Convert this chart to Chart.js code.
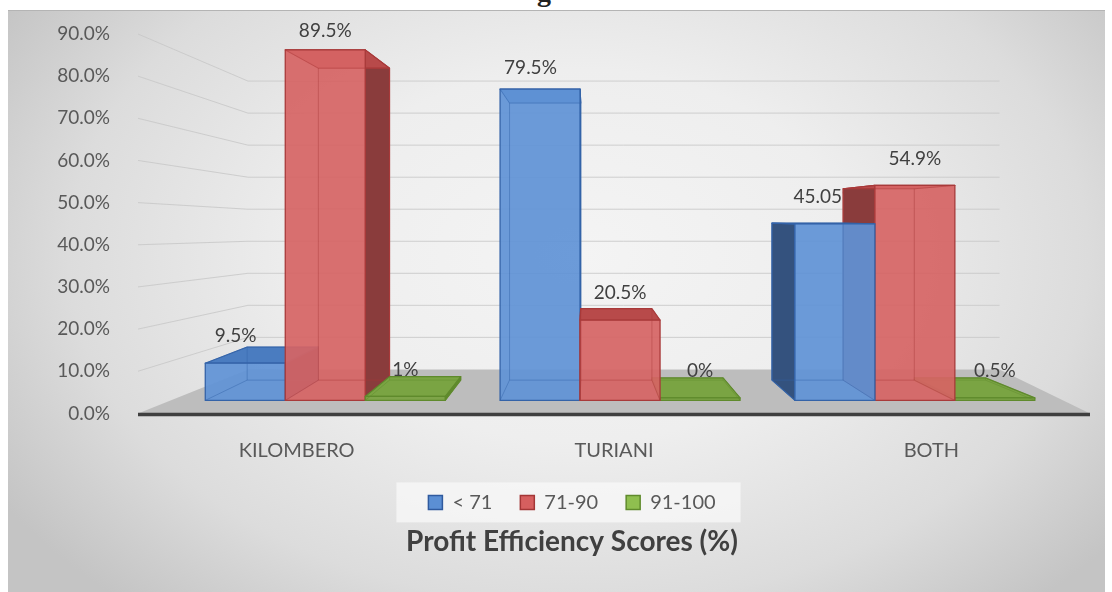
<!DOCTYPE html>
<html><head><meta charset="utf-8">
<script src="https://cdn.jsdelivr.net/npm/chart.js@4.4.1/dist/chart.umd.min.js"></script>
<style>
html,body{margin:0;padding:0;background:#fff;width:1112px;height:592px;overflow:hidden;}
#frame{position:absolute;left:8px;top:10px;width:1097px;height:582px;
 background:radial-gradient(ellipse 62% 80% at 52% 42%, #f4f4f4 0%, #eeeeee 40%, #dcdcdc 75%, #c4c4c4 100%);
 border-top:1px solid #b4b4b4;}
#cut{position:absolute;left:537px;top:-24px;font:bold 28px 'Liberation Serif';color:#222;}
#wrap{position:absolute;left:0;top:0;width:1112px;height:592px;}
</style></head><body>
<div id="frame"></div>
<div id="cut">g</div>
<div id="wrap"><canvas id="c" width="1112" height="592"></canvas></div>
<script>
const categories = ['KILOMBERO', 'TURIANI', 'BOTH'];
const seriesNames = ['< 71', '71-90', '91-100'];
const below71 = [9.5, 79.5, 45.05];
const from71to90 = [89.5, 20.5, 54.9];
const from91to100 = [1, 0, 0.5];
const yTicks = [0, 10, 20, 30, 40, 50, 60, 70, 80, 90];
const chartTitle = 'Profit Efficiency Scores (%)';

const FONT = 'Lato';
const faceStyles = [
  {front:'rgba(96,146,214,0.92)', side:'#34527e', top:'#4a7cc0', edge:'#3463a8'},
  {front:'rgba(214,100,100,0.92)', side:'#8a3c3c', top:'#b84a4a', edge:'#a83a3a'},
  {front:'rgba(122,162,66,0.95)', side:'#5f8a2c', top:'#7aa443', edge:'#5f8a2c'}
];

function geom(ca){
  const w = ca.right - ca.left, h = ca.bottom - ca.top;
  return {
    vx1: ca.left + 0.5897*w, vy1: ca.top + 0.517*h, s1: 0.929,
    vx2: ca.left + 0.4706*w, vy2: ca.top + 0.480*h, s2: 0.89,
    sw: 0.76,
    wallL: ca.left + 0.1155*w, wallR: ca.left + 0.905*w
  };
}

const pseudo3d = {
  id:'pseudo3d',
  beforeDatasetsDraw(chart){
    const ctx = chart.ctx, ca = chart.chartArea, g = geom(ca);
    const ys = chart.scales.y;
    const wallY = y => g.vy1 + g.sw*(y - g.vy1);
    const toF = (x,y) => [g.vx1 + g.s1*(x-g.vx1), g.vy1 + g.s1*(y-g.vy1)];
    const toB = (x,y) => [g.vx2 + g.s2*(x-g.vx2), g.vy2 + g.s2*(y-g.vy2)];
    ctx.save();
    // gridlines
    ctx.strokeStyle = 'rgba(200,200,200,0.85)';
    ctx.lineWidth = 1;
    yTicks.forEach(v => {
      if (v === 0) return;
      const yl = ys.getPixelForValue(v), yw = wallY(yl);
      ctx.beginPath();
      ctx.moveTo(ca.left, yl);
      ctx.lineTo(g.wallL, yw);
      ctx.lineTo(g.wallR, yw);
      ctx.stroke();
    });
    // floor
    const y0 = ys.getPixelForValue(0), yw0 = wallY(y0);
    ctx.fillStyle = '#bdbdbd';
    ctx.beginPath();
    ctx.moveTo(ca.left, y0); ctx.lineTo(g.wallL, yw0); ctx.lineTo(g.wallR, yw0); ctx.lineTo(ca.right, y0);
    ctx.closePath(); ctx.fill();
    ctx.strokeStyle = '#3f3f3f'; ctx.lineWidth = 3.5;
    ctx.beginPath(); ctx.moveTo(ca.left, y0+1); ctx.lineTo(ca.right, y0+1); ctx.stroke();

    const boxes = [];
    chart.data.datasets.forEach((ds, di) => {
      const meta = chart.getDatasetMeta(di);
      meta.data.forEach((el, j) => {
        const l = el.x - el.width/2, r = el.x + el.width/2;
        const [fl, ft0] = toF(l, el.y);
        const [fr, fb] = toF(r, el.base);
        const ft = Math.min(ft0, fb - 2.5);
        const [bl, bt] = toB(fl, ft);
        const [br, bb] = toB(fr, fb);
        boxes.push({di, j, v: ds.data[j], F:{l:fl, r:fr, t:ft, b:fb}, B:{l:bl, r:br, t:bt, b:bb}});
      });
    });
    // labels first (bars may overlap them like the original)
    ctx.fillStyle = '#404040';
    ctx.font = '19px ' + FONT;
    ctx.textAlign = 'center'; ctx.textBaseline = 'middle';
    boxes.forEach(b => {
      const h = b.F.b - b.F.t;
      const off = 27 - Math.max(0, h - 200)*0.055;
      const w = b.F.r - b.F.l;
      const shift = b.di === 0 ? -0.12*w : 0;
      ctx.fillText(b.v + '%', (b.F.l + b.F.r)/2 + shift, b.F.t - off);
    });
    boxes.sort((a, b) => Math.abs((b.F.l+b.F.r)/2 - g.vx2) - Math.abs((a.F.l+a.F.r)/2 - g.vx2));
    const poly = pts => { ctx.beginPath(); ctx.moveTo(pts[0][0], pts[0][1]); for (let i=1;i<pts.length;i++) ctx.lineTo(pts[i][0], pts[i][1]); ctx.closePath(); };
    boxes.forEach(bx => {
      const st = faceStyles[bx.di], F = bx.F, B = bx.B;
      ctx.lineJoin = 'round';
      let side;
      if (B.r > F.r) side = [[F.r,F.t],[B.r,B.t],[B.r,B.b],[F.r,F.b]];
      else side = [[F.l,F.t],[B.l,B.t],[B.l,B.b],[F.l,F.b]];
      ctx.fillStyle = st.side; poly(side); ctx.fill();
      ctx.strokeStyle = st.edge; ctx.lineWidth = 1.2; ctx.stroke();
      const top = [[F.l,F.t],[F.r,F.t],[B.r,B.t],[B.l,B.t]];
      ctx.fillStyle = st.top; poly(top); ctx.fill();
      ctx.stroke();
      ctx.fillStyle = st.front; poly([[F.l,F.t],[F.r,F.t],[F.r,F.b],[F.l,F.b]]); ctx.fill();
      ctx.strokeStyle = st.edge; ctx.globalAlpha = 0.45; ctx.lineWidth = 1;
      ctx.beginPath();
      ctx.rect(B.l, B.t, B.r-B.l, B.b-B.t);
      ctx.moveTo(F.l,F.t); ctx.lineTo(B.l,B.t);
      ctx.moveTo(F.r,F.t); ctx.lineTo(B.r,B.t);
      ctx.moveTo(F.l,F.b); ctx.lineTo(B.l,B.b);
      ctx.moveTo(F.r,F.b); ctx.lineTo(B.r,B.b);
      ctx.stroke();
      ctx.globalAlpha = 1; ctx.lineWidth = 1.3;
      poly([[F.l,F.t],[F.r,F.t],[F.r,F.b],[F.l,F.b]]); ctx.stroke();
    });
    ctx.restore();
    return false;
  }
};

const legendBg = {
  id:'legendBg',
  beforeDraw(chart){
    const lg = chart.legend; if (!lg || !lg.legendHitBoxes.length) return;
    const hb = lg.legendHitBoxes;
    const l = Math.min(...hb.map(h=>h.left)) - 32, r = Math.max(...hb.map(h=>h.left+h.width)) + 25;
    const cy = hb[0].top + hb[0].height/2;
    const ctx = chart.ctx; ctx.save();
    ctx.fillStyle = 'rgba(248,248,248,0.75)';
    ctx.fillRect(l, cy - 20, r - l, 40);
    ctx.restore();
  }
};

new Chart(document.getElementById('c'), {
  type:'bar',
  data:{
    labels: categories,
    datasets:[
      {label: seriesNames[0], data: below71, backgroundColor:'#5b8fd4', borderColor:'#2f5a9e', borderWidth:1.5},
      {label: seriesNames[1], data: from71to90, backgroundColor:'#d65f5f', borderColor:'#a33636', borderWidth:1.5},
      {label: seriesNames[2], data: from91to100, backgroundColor:'#8fbf4f', borderColor:'#5f8a2c', borderWidth:1.5}
    ]
  },
  options:{
    responsive:false, animation:false, devicePixelRatio:1,
    layout:{padding:{left:54, right:22, top:34, bottom:0}},
    datasets:{bar:{categoryPercentage:0.814, barPercentage:1}},
    scales:{
      x:{
        grid:{display:false}, border:{display:false},
        ticks:{font:{family:FONT, size:20}, color:'#595959', padding:17},
        afterFit(s){ s.height = 51; }
      },
      y:{
        min:0, max:90,
        afterBuildTicks(s){ s.ticks = yTicks.map(v => ({value:v})); },
        ticks:{callback: v => Number(v).toFixed(1) + '%', font:{family:FONT, size:19}, color:'#595959', padding:20},
        grid:{display:false}, border:{display:false},
        afterFit(s){ s.width = 84; }
      }
    },
    plugins:{
      legend:{position:'bottom', labels:{boxWidth:14, boxHeight:14, padding:28, font:{family:FONT, size:20}, color:'#595959'}},
      title:{display:true, position:'bottom', text: chartTitle, font:{family:FONT, size:28, weight:'bold'}, color:'#404040', padding:{top:3, bottom:33}},
      tooltip:{enabled:false}
    }
  },
  plugins:[pseudo3d, legendBg]
});
</script>
</body></html>
